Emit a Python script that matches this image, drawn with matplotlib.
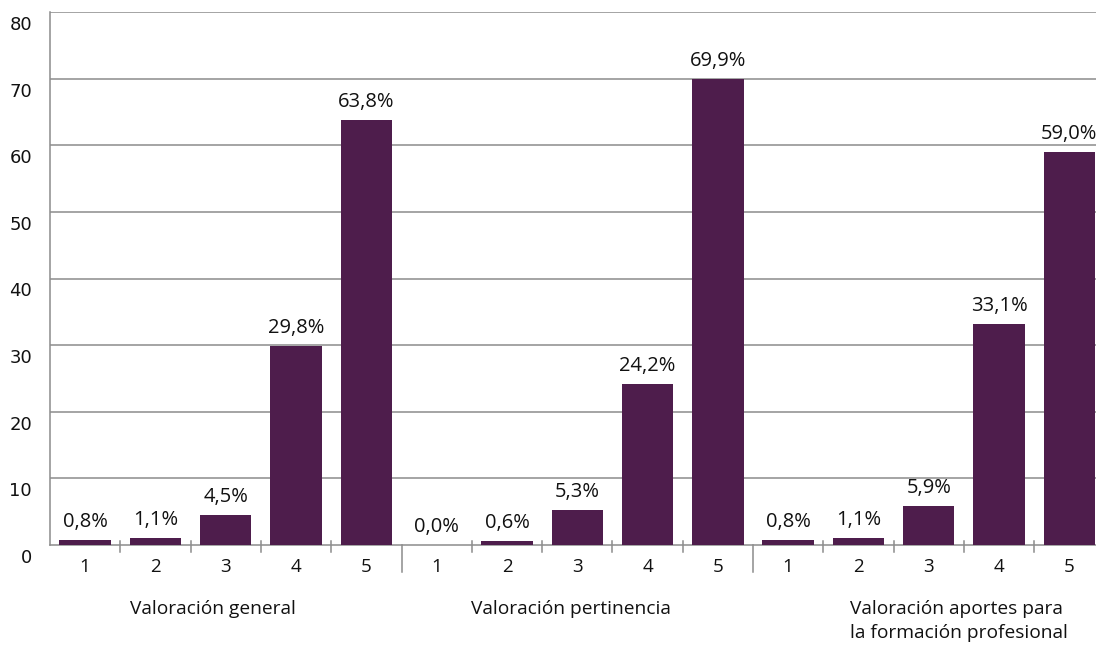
import matplotlib
matplotlib.use("Agg")
import matplotlib.pyplot as plt
import matplotlib.transforms as mtransforms
import numpy as np

groups = ["Valoración general", "Valoración pertinencia",
          "Valoración aportes para\nla formación profesional"]
ratings = ["1", "2", "3", "4", "5"]
general = [0.8, 1.1, 4.5, 29.8, 63.8]
pertinencia = [0.0, 0.6, 5.3, 24.2, 69.9]
aportes = [0.8, 1.1, 5.9, 33.1, 59.0]
yticks = [0, 10, 20, 30, 40, 50, 60, 70, 80]

series = [general, pertinencia, aportes]
values = [v for s in series for v in s]
labels = [r for s in series for r in ratings]
x = np.arange(len(values))

W, H = 1096, 646
fig = plt.figure(figsize=(W / 100, H / 100), dpi=100)
left, right, top, bottom = 50, 1104.5, 12, 545
ax = fig.add_axes([left / W, (H - bottom) / H, (right - left) / W, (bottom - top) / H])

color = "#4E1D4C"
grid = "#8C8C8C"
txt = "#111111"
ax.bar(x, values, width=0.73, color=color, zorder=3)
ax.set_xlim(-0.5, len(values) - 0.5)
ax.set_ylim(0, 80)
ax.set_yticks(yticks)
ax.set_yticklabels([str(t) for t in yticks], fontsize=13, color=txt, family="DejaVu Sans")
ax.tick_params(axis="y", length=0, pad=13)
off = mtransforms.ScaledTranslation(0, -11 / 100, fig.dpi_scale_trans)
for lab in ax.get_yticklabels():
    lab.set_transform(lab.get_transform() + off)
for t in yticks[1:]:
    ax.axhline(t, color=grid, lw=1.1, zorder=1)
for s in ["top", "right"]:
    ax.spines[s].set_visible(False)
ax.spines["left"].set_color(grid)
ax.spines["bottom"].set_color(grid)
ax.spines["left"].set_linewidth(1.1)
ax.spines["bottom"].set_linewidth(1.1)

ax.set_xticks([])
font = "Open Sans"
for xi, v, lab in zip(x, values, labels):
    ax.text(xi, v + 1.2, f"{v:.1f}%".replace(".", ","), ha="center", va="bottom",
            fontsize=14.5, color=txt, family=font)
    ax.text(xi, -2.0, lab, ha="center", va="top", fontsize=13.5, color=txt,
            family=font, clip_on=False)

# tick marks between bars and group separators
for b in np.arange(0.5, len(values) - 1, 1.0):
    if int(b + 0.5) % 5 == 0:
        ax.plot([b, b], [0, -4.0], color=grid, lw=1.1, clip_on=False)
    else:
        ax.plot([b, b], [0.6, -1.0], color=grid, lw=1.1, clip_on=False)

group_left = [0.64, 5.49, 10.88]
for gx, g in zip(group_left, groups):
    ax.text(gx, -8.2, g, ha="left", va="top", fontsize=13.8, color=txt,
            family=font, clip_on=False, linespacing=1.45)

fig.savefig("out.png", dpi=100)
